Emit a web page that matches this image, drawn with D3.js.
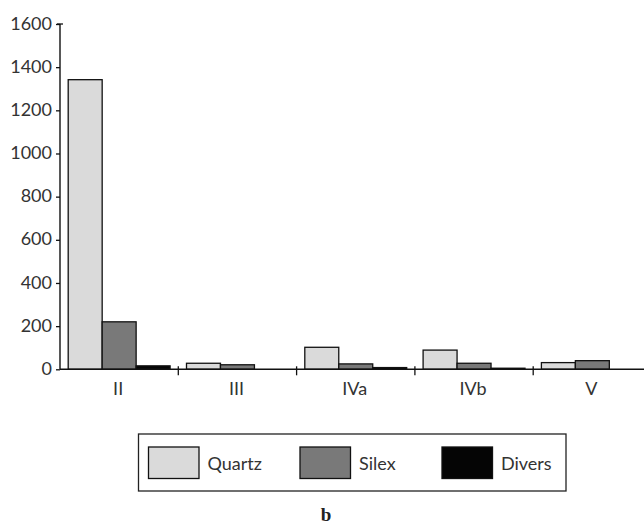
<!DOCTYPE html>
<html><head><meta charset="utf-8">
<script src="https://cdn.jsdelivr.net/npm/d3@7"></script>
<style>body{margin:0;background:#fff}svg{display:block}</style>
</head><body>
<script>
const categories = ["II", "III", "IVa", "IVb", "V"];
const seriesNames = ["Quartz", "Silex", "Divers"];
const quartz = [1342, 28, 102, 89, 31];
const silex = [220, 21, 25, 28, 40];
const divers = [16, 0, 8, 5, 0];
const yTicks = [0, 200, 400, 600, 800, 1000, 1200, 1400, 1600];
const colors = ["#dadada", "#797979", "#050505"];
const seriesValues = [quartz, silex, divers];

const W = 644, H = 526;
const font = "Lato, 'Open Sans', sans-serif";
const svg = d3.select("body").append("svg").attr("width", W).attr("height", H);

const x = d3.scaleBand().domain(categories).range([60, 651.5]).padding(0);
const inner = d3.scaleBand().domain(seriesNames).range([8.2, x.bandwidth() - 8.2]).padding(0);
const y = d3.scaleLinear().domain([0, 1600]).range([369.3, 24]);

// bars
seriesNames.forEach((s, si) => {
  svg.append("g").selectAll("rect").data(categories.map((c, i) => ({c, v: seriesValues[si][i]})).filter(d => d.v > 0))
    .join("rect")
    .attr("x", d => x(d.c) + inner(s))
    .attr("width", inner.bandwidth())
    .attr("y", d => y(d.v))
    .attr("height", d => y(0) - y(d.v))
    .attr("fill", colors[si])
    .attr("stroke", "#111")
    .attr("stroke-width", 1.3);
});

// y axis
const yAxis = d3.axisLeft(y).tickValues(yTicks).tickSize(4).tickPadding(4).tickFormat(d3.format("d"));
const gy = svg.append("g").attr("transform", "translate(60,0)").call(yAxis);
gy.select(".domain").attr("d", `M0,${y(1600)}V${y(0)}`).attr("stroke", "#111").attr("stroke-width", 1.4);
gy.selectAll(".tick line").attr("stroke", "#111").attr("stroke-width", 1.3);
gy.selectAll(".tick text").attr("font-family", font).attr("font-size", 18).attr("fill", "#333").attr("dy", "0.28em");
svg.append("line").attr("x1", 57).attr("x2", 63).attr("y1", y(1600)).attr("y2", y(1600)).attr("stroke", "#111").attr("stroke-width", 1.3);

// x axis
const gx = svg.append("g").attr("transform", `translate(0,${y(0)})`);
gx.append("line").attr("x1", 60).attr("x2", W).attr("y1", 0).attr("y2", 0).attr("stroke", "#111").attr("stroke-width", 1.4);
gx.selectAll("line.t").data(categories.slice(1)).join("line").attr("class", "t")
  .attr("x1", d => x(d)).attr("x2", d => x(d)).attr("y1", -3).attr("y2", 6)
  .attr("stroke", "#111").attr("stroke-width", 1.3);
gx.selectAll("text").data(categories).join("text")
  .attr("x", d => x(d) + x.bandwidth() / 2 - 1).attr("y", 26)
  .attr("text-anchor", "middle").attr("font-family", font).attr("font-size", 18).attr("fill", "#333")
  .text(d => d);

// legend
const lg = svg.append("g");
lg.append("rect").attr("x", 138.5).attr("y", 434).attr("width", 427.5).attr("height", 57)
  .attr("fill", "none").attr("stroke", "#222").attr("stroke-width", 1.3);
const legX = [148.5, 300, 442];
seriesNames.forEach((s, i) => {
  lg.append("rect").attr("x", legX[i]).attr("y", 447).attr("width", 50.5).attr("height", 31.5)
    .attr("fill", colors[i]).attr("stroke", "#111").attr("stroke-width", 1.3);
  lg.append("text").attr("x", legX[i] + 59).attr("y", 470).attr("font-family", font).attr("font-size", 18)
    .attr("fill", "#333").text(s);
});

svg.append("text").attr("x", 326).attr("y", 521).attr("text-anchor", "middle")
  .attr("font-family", "'Liberation Serif', serif").attr("font-weight", "bold").attr("font-size", 19).attr("fill", "#222").text("b");
</script>
</body></html>
